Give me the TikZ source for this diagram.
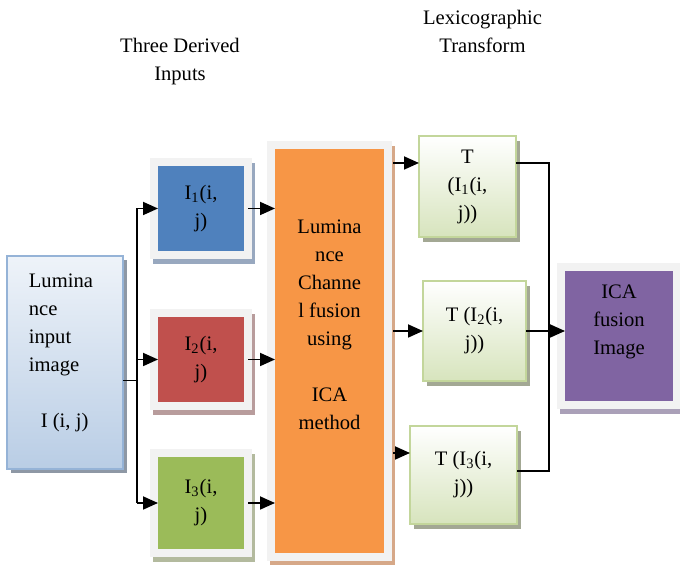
\documentclass[tikz,border=0pt]{standalone}
\usepackage{fontspec}
\setmainfont{Liberation Serif}
\usetikzlibrary{arrows.meta,positioning,calc,shadows}

\definecolor{framegray}{HTML}{F2F2F2}
\definecolor{blueI}{HTML}{4F81BD}
\definecolor{redI}{HTML}{C0504D}
\definecolor{greenI}{HTML}{9BBB59}
\definecolor{fuseorange}{HTML}{F79646}
\definecolor{icapurple}{HTML}{8064A2}
\definecolor{blueshadow}{HTML}{98A8BF}
\definecolor{redshadow}{HTML}{B89C9C}
\definecolor{greenshadow}{HTML}{B3BA9E}
\definecolor{orangeshadow}{HTML}{D6A888}
\definecolor{purpleshadow}{HTML}{AAA0B8}
\definecolor{tborder}{HTML}{C3D69B}
\definecolor{tbottom}{HTML}{D7E4BD}
\definecolor{tshadow}{HTML}{A3A894}
\definecolor{inborder}{HTML}{95B3D7}
\definecolor{intop}{HTML}{EEF3F9}
\definecolor{inbottom}{HTML}{B9CDE5}
\definecolor{inshadow}{HTML}{8E98A5}

\begin{document}
\begin{tikzpicture}[
  x=0.5pt, y=-0.5pt,
  font=\fontsize{10.3pt}{14pt}\selectfont,
  >={Triangle[length=7.5pt,width=6.5pt]},
  line width=0.9pt,
  txt/.style={align=center, inner sep=0pt},
  framed/.style 2 args={general shadow={draw=#2, fill=#2, line width=8pt,
      shadow xshift=1.5pt, shadow yshift=-2.5pt},
    preaction={draw=framegray, line width=8pt},
    fill=#1, align=center, inner sep=0pt, outer sep=0pt},
  inbox/.style={draw=inborder, line width=1pt, top color=intop, bottom color=inbottom,
    drop shadow={fill=inshadow, opacity=1, shadow xshift=2pt, shadow yshift=-2pt},
    inner sep=0pt, outer sep=0pt},
  tbox/.style={draw=tborder, line width=1pt, top color=white, bottom color=tbottom,
    drop shadow={fill=tshadow, opacity=1, shadow xshift=2pt, shadow yshift=-2.5pt},
    align=center, inner sep=0pt, outer sep=0pt}
]
\useasboundingbox (0,0) rectangle (680,565);

% headings
\node[txt] (derived) at (180,61.5) {Three Derived\\Inputs};
\node[txt] (lexico) at (482.5,31.5) {Lexicographic\\Transform};

% input image
\node[inbox, minimum width=58pt, minimum height=106.5pt] (in) at (65,362.5) {};
\node[txt, align=left, anchor=north west] (intxt) at ([xshift=10.5pt,yshift=-8.5pt]in.north west)
  {Lumina\\nce\\input\\image\\[14pt]\hspace*{6pt}I (i, j)};

% derived inputs
\node[framed={blueI}{blueshadow}, minimum width=43pt, minimum height=42.5pt] (i1) at (201,208.5) {I\textsubscript{1}(i,\\j)};
\node[framed={redI}{redshadow}, minimum width=43pt, minimum height=42.5pt] (i2) at (201,359.5) {I\textsubscript{2}(i,\\j)};
\node[framed={greenI}{greenshadow}, minimum width=43pt, minimum height=46pt] (i3) at (201,503) {I\textsubscript{3}(i,\\j)};

% fusion block
\node[framed={fuseorange}{orangeshadow}, minimum width=54.5pt, minimum height=202pt] (orange) at (329.5,351) {};
\node[txt] (fusetxt) at ([yshift=13pt]orange.center)
  {Lumina\\nce\\Channe\\l fusion\\using\\[14pt]ICA\\method};

% lexicographic transforms
\node[tbox, minimum width=48.5pt, minimum height=50.5pt] (t1) at (467.5,186.5) {T\\(I\textsubscript{1}(i,\\j))};
\node[tbox, minimum width=51.5pt, minimum height=50pt] (t2) at (474.5,331) {T (I\textsubscript{2}(i,\\j))};
\node[tbox, minimum width=53.5pt, minimum height=49pt] (t3) at (463.5,475) {T (I\textsubscript{3}(i,\\j))};

% output
\node[framed={icapurple}{purpleshadow}, minimum width=54pt, minimum height=65pt] (ica) at (619,336) {};
\node[txt] (icatxt) at ([yshift=7pt]ica.center) {ICA\\fusion\\Image};

% connectors
\coordinate (fork) at (137,380.5);
\coordinate (merge) at (549,331);

\draw ([yshift=-9pt]in.east) -- (fork);
\draw (fork |- i1) -- (fork |- i3);
\draw[->] (fork |- i1) -- (i1.west);
\draw[->] (fork |- i2) -- (i2.west);
\draw[->] (fork |- i3) -- (i3.west);

\draw[->] ([xshift=2pt]i1.east) -- (orange.west |- i1);
\draw[->] ([xshift=2pt]i2.east) -- (orange.west |- i2);
\draw[->] ([xshift=2pt]i3.east) -- (orange.west |- i3);

\draw[->] ($(orange.east |- t1.west)+(4.5pt,11.75pt)$) -- ([yshift=11.75pt]t1.west);
\draw[->] ($(orange.east |- t2.west)+(4.5pt,0)$) -- (t2.west);
\draw[->] ($(orange.east |- t3.west)+(4.5pt,11pt)$) -- ([yshift=11pt]t3.west);

\draw ([yshift=11.75pt]t1.east) -| (merge);
\draw ([yshift=2pt]t3.east) -| (merge);
\draw[->] (t2.east) -- (ica.west |- t2.east);
\end{tikzpicture}
\end{document}
